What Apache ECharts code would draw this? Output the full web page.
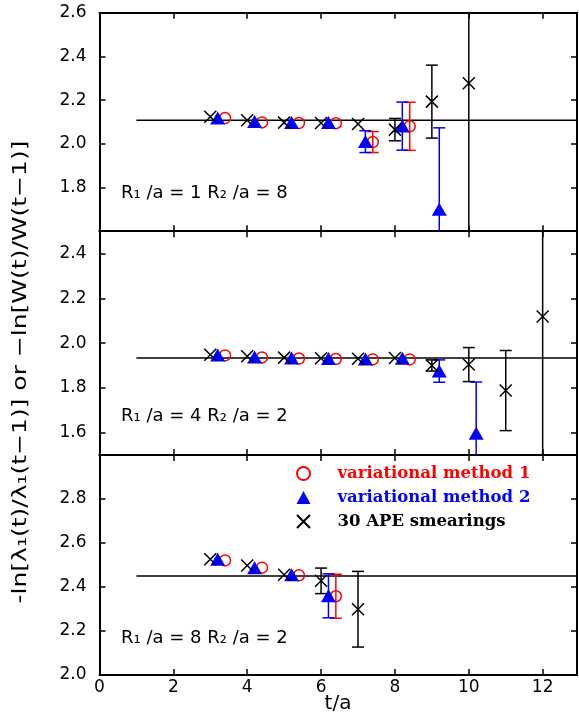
<!DOCTYPE html>
<html>
<head>
<meta charset="utf-8">
<script src="https://cdn.jsdelivr.net/npm/echarts@6/dist/echarts.min.js"></script>
<style>
  html, body { margin: 0; padding: 0; background: #fff; }
  #chart { width: 579px; height: 723px; }
</style>
</head>
<body>
<div id="chart"></div>
<script>
// ---- data: effective potential plateaus, three loop geometries ----
const xTicks = [0, 2, 4, 6, 8, 10, 12];

// panel 1: R1/a = 1, R2/a = 8
const p1Label = 'R₁ /a = 1 R₂ /a = 8';
const p1YTicks = [1.8, 2.0, 2.2, 2.4, 2.6];
const p1Fit = 2.108;
const p1ApeT = [3, 4, 5, 6, 7, 8, 9, 10];
const p1ApeV = [2.124, 2.108, 2.097, 2.095, 2.091, 2.065, 2.193, 2.277];
const p1ApeE = [null, null, null, null, null, 0.051, 0.167, 0.8];
const p1Var2T = [3.2, 4.2, 5.2, 6.2, 7.2, 8.2, 9.2];
const p1Var2V = [2.118, 2.102, 2.098, 2.097, 2.010, 2.081, 1.700];
const p1Var2E = [null, null, null, null, 0.05, 0.11, 0.373];
const p1Var1T = [3.4, 4.4, 5.4, 6.4, 7.4, 8.4];
const p1Var1V = [2.118, 2.098, 2.095, 2.094, 2.008, 2.080];
const p1Var1E = [null, null, null, null, 0.048, 0.11];

// panel 2: R1/a = 4, R2/a = 2
const p2Label = 'R₁ /a = 4 R₂ /a = 2';
const p2YTicks = [1.6, 1.8, 2.0, 2.2, 2.4];
const p2Fit = 1.933;
const p2ApeT = [3, 4, 5, 6, 7, 8, 9, 10, 11, 12];
const p2ApeV = [1.948, 1.941, 1.935, 1.932, 1.930, 1.933, 1.900, 1.904, 1.788, 2.119];
const p2ApeE = [null, null, null, null, null, null, 0.025, 0.076, 0.179, 0.8];
const p2Var2T = [3.2, 4.2, 5.2, 6.2, 7.2, 8.2, 9.2, 10.2];
const p2Var2V = [1.947, 1.938, 1.933, 1.931, 1.929, 1.932, 1.875, 1.597];
const p2Var2E = [null, null, null, null, null, null, 0.05, 0.229];
const p2Var1T = [3.4, 4.4, 5.4, 6.4, 7.4, 8.4];
const p2Var1V = [1.945, 1.936, 1.931, 1.929, 1.927, 1.927];
const p2Var1E = [null, null, null, null, null, null];

// panel 3: R1/a = 8, R2/a = 2
const p3Label = 'R₁ /a = 8 R₂ /a = 2';
const p3YTicks = [2.0, 2.2, 2.4, 2.6, 2.8];
const p3Fit = 2.45;
const p3ApeT = [3, 4, 5, 6, 7];
const p3ApeV = [2.526, 2.498, 2.456, 2.428, 2.299];
const p3ApeE = [null, null, null, 0.058, 0.172];
const p3Var2T = [3.2, 4.2, 5.2, 6.2];
const p3Var2V = [2.526, 2.488, 2.456, 2.360];
const p3Var2E = [null, null, null, 0.1];
const p3Var1T = [3.4, 4.4, 5.4, 6.4];
const p3Var1V = [2.521, 2.488, 2.453, 2.358];
const p3Var1E = [null, null, null, 0.1];

const fitStart = 1;
const names = ['variational method 1', 'variational method 2', '30 APE smearings'];

// ---- layout / style ----
const X_MIN = 0, X_MAX = 12.93;
const panels = [
  { top: 12.7, height: 218.5, ymin: 1.6, ymax: 2.6, ticks: p1YTicks, fit: p1Fit, label: p1Label, labelY: 195,
    ape: [p1ApeT, p1ApeV, p1ApeE], v2: [p1Var2T, p1Var2V, p1Var2E], v1: [p1Var1T, p1Var1V, p1Var1E] },
  { top: 231.2, height: 223.8, ymin: 1.5, ymax: 2.5, ticks: p2YTicks, fit: p2Fit, label: p2Label, labelY: 418,
    ape: [p2ApeT, p2ApeV, p2ApeE], v2: [p2Var2T, p2Var2V, p2Var2E], v1: [p2Var1T, p2Var1V, p2Var1E] },
  { top: 455, height: 220, ymin: 2.0, ymax: 3.0, ticks: p3YTicks, fit: p3Fit, label: p3Label, labelY: 640,
    ape: [p3ApeT, p3ApeV, p3ApeE], v2: [p3Var2T, p3Var2V, p3Var2E], v1: [p3Var1T, p3Var1V, p3Var1E] }
];

const RED = '#ff0000', BLUE = '#0000ff', BLACK = '#000000';
const tickFont = { fontFamily: 'DejaVu Sans', fontSize: 17, color: BLACK };
const crossPath = 'path://M0,0L10,10M10,0L0,10';

const grid = [], xAxis = [], yAxis = [], series = [];

function pairs(ts, vs) { return ts.map((t, i) => [t, vs[i]]); }
function errTriples(ts, vs, es) {
  const out = [];
  ts.forEach((t, i) => { if (es[i] != null) out.push([t, vs[i], es[i]]); });
  return out;
}

function errorBarRender(color) {
  return function (params, api) {
    const t = api.value(0), v = api.value(1), e = api.value(2);
    const cs = params.coordSys;
    const hi = api.coord([t, v + e]);
    const lo = api.coord([t, v - e]);
    const x = hi[0];
    const yTop = Math.max(hi[1], cs.y);
    const yBot = Math.min(lo[1], cs.y + cs.height);
    const style = { stroke: color, lineWidth: 1.5 };
    const kids = [{ type: 'line', shape: { x1: x, y1: yTop, x2: x, y2: yBot }, style }];
    const cap = 6;
    if (hi[1] >= cs.y) kids.push({ type: 'line', shape: { x1: x - cap, y1: hi[1], x2: x + cap, y2: hi[1] }, style });
    if (lo[1] <= cs.y + cs.height) kids.push({ type: 'line', shape: { x1: x - cap, y1: lo[1], x2: x + cap, y2: lo[1] }, style });
    return { type: 'group', children: kids };
  };
}

const axisLineStyle = { show: true, onZero: false, lineStyle: { color: BLACK, width: 2 } };
const tickStyle = (vals) => ({ show: true, inside: true, length: 6, customValues: vals, lineStyle: { color: BLACK, width: 1.5 } });

panels.forEach((p, gi) => {
  grid.push({ left: 99.5, width: 477.5, top: p.top, height: p.height, outerBoundsMode: 'none', containLabel: false });
  const isBottom = gi === panels.length - 1;
  ['bottom', 'top'].forEach(pos => {
    xAxis.push({
      type: 'value', gridIndex: gi, position: pos, min: X_MIN, max: X_MAX,
      axisLine: axisLineStyle, axisTick: tickStyle(xTicks), splitLine: { show: false },
      axisLabel: (isBottom && pos === 'bottom')
        ? Object.assign({ show: true, margin: 4, customValues: xTicks, formatter: v => String(v) }, tickFont)
        : { show: false }
    });
  });
  ['left', 'right'].forEach(pos => {
    yAxis.push({
      type: 'value', gridIndex: gi, position: pos, min: p.ymin, max: p.ymax,
      axisLine: axisLineStyle, axisTick: tickStyle(p.ticks), splitLine: { show: false },
      axisLabel: pos === 'left'
        ? Object.assign({ show: true, margin: 13, customValues: p.ticks, formatter: v => v.toFixed(1) }, tickFont)
        : { show: false }
    });
  });
  const xi = gi * 2, yi = gi * 2;

  // fitted plateau
  series.push({
    type: 'line', xAxisIndex: xi, yAxisIndex: yi, data: [[fitStart, p.fit], [X_MAX, p.fit]],
    symbol: 'none', lineStyle: { color: BLACK, width: 1.5 }, silent: true, z: 1
  });

  // variational method 1 (open circles)
  series.push({
    type: 'custom', name: 'err-v1', xAxisIndex: xi, yAxisIndex: yi, renderItem: errorBarRender(RED),
    data: errTriples(p.v1[0], p.v1[1], p.v1[2]), encode: { x: 0, y: 1 }, z: 2, silent: true
  });
  series.push({
    type: 'scatter', name: names[0], xAxisIndex: xi, yAxisIndex: yi, data: pairs(p.v1[0], p.v1[1]),
    symbol: 'circle', symbolSize: 11,
    itemStyle: { color: 'rgba(0,0,0,0)', borderColor: RED, borderWidth: 1.5, opacity: 1 }, z: 3, silent: true
  });

  // variational method 2 (filled triangles)
  series.push({
    type: 'custom', name: 'err-v2', xAxisIndex: xi, yAxisIndex: yi, renderItem: errorBarRender(BLUE),
    data: errTriples(p.v2[0], p.v2[1], p.v2[2]), encode: { x: 0, y: 1 }, z: 4, silent: true
  });
  series.push({
    type: 'scatter', name: names[1], xAxisIndex: xi, yAxisIndex: yi, data: pairs(p.v2[0], p.v2[1]),
    symbol: 'triangle', symbolSize: [15, 13],
    itemStyle: { color: BLUE, opacity: 1 }, z: 5, silent: true
  });

  // APE smeared Wilson loops (crosses)
  series.push({
    type: 'custom', name: 'err-ape', xAxisIndex: xi, yAxisIndex: yi, renderItem: errorBarRender(BLACK),
    data: errTriples(p.ape[0], p.ape[1], p.ape[2]), encode: { x: 0, y: 1 }, z: 6, silent: true
  });
  series.push({
    type: 'scatter', name: names[2], xAxisIndex: xi, yAxisIndex: yi, data: pairs(p.ape[0], p.ape[1]),
    symbol: crossPath, symbolSize: 12,
    itemStyle: { color: 'rgba(0,0,0,0)', borderColor: BLACK, borderWidth: 1.5, opacity: 1 }, z: 7, silent: true
  });
});

const graphic = panels.map(p => ({
  type: 'text', left: 121, top: p.labelY - 11,
  style: { text: p.label, fontFamily: 'DejaVu Sans', fontSize: 18, fill: BLACK }
}));
// y-axis title, stretched along its reading direction
graphic.push({
  type: 'text', x: 21, y: 372, rotation: Math.PI / 2, scaleX: 1.25,
  style: { text: '-ln[λ₁(t)/λ₁(t−1)] or −ln[W(t)/W(t−1)]', fontFamily: 'DejaVu Sans', fontSize: 20,
           fill: BLACK, align: 'center', verticalAlign: 'middle' }
});
graphic.push({
  type: 'text', x: 338, y: 704,
  style: { text: 't/a', fontFamily: 'DejaVu Sans', fontSize: 20, fill: BLACK, align: 'center', verticalAlign: 'middle' }
});

const chart = echarts.init(document.getElementById('chart'), null, { renderer: 'canvas' });
chart.setOption({
  animation: false,
  backgroundColor: '#ffffff',
  grid, xAxis, yAxis, series, graphic,
  legend: {
    orient: 'vertical', left: 291, top: 460, itemWidth: 14, itemHeight: 13, itemGap: 7,
    selectedMode: false,
    textStyle: { fontFamily: 'DejaVu Serif', fontWeight: 'bold', fontSize: 16.5, padding: [0, 0, 0, 22] },
    data: [
      { name: names[0], textStyle: { color: RED } },
      { name: names[1], textStyle: { color: BLUE } },
      { name: names[2], textStyle: { color: BLACK } }
    ]
  }
});
</script>
</body>
</html>
